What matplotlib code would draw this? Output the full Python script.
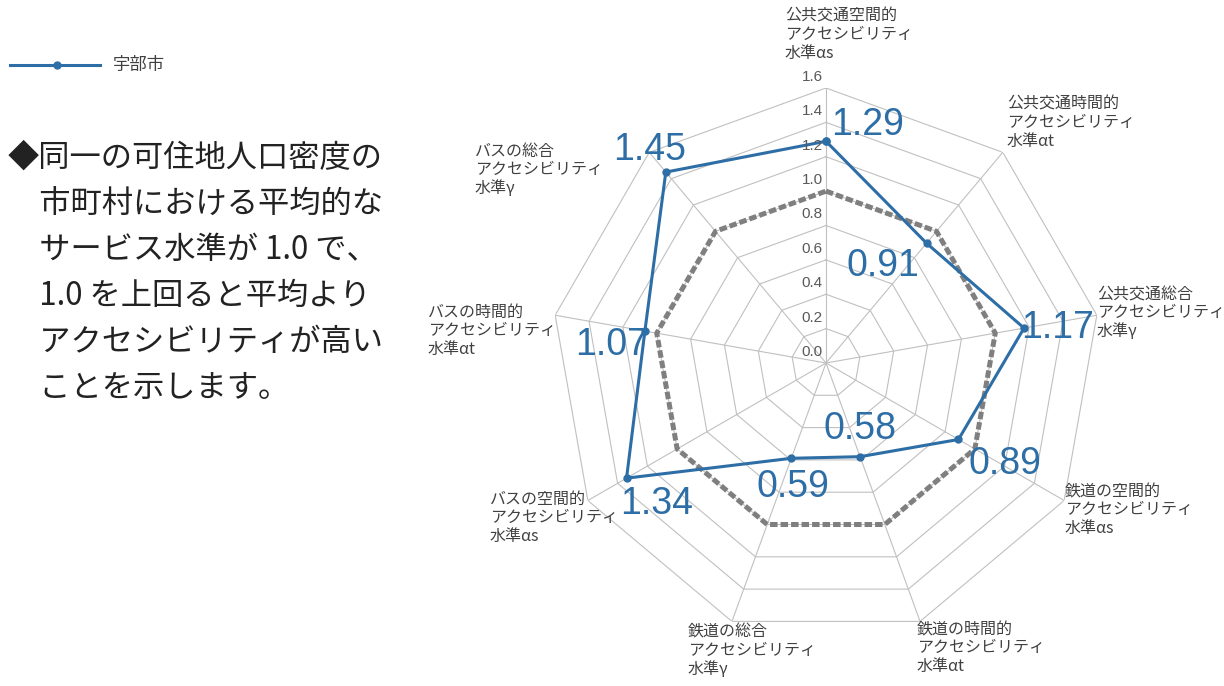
import numpy as np
import matplotlib.pyplot as plt

plt.rcParams['font.family'] = ['Noto Sans CJK JP', 'DejaVu Sans']

labels = ['公共交通空間的\nアクセシビリティ\n水準αs',
          '公共交通時間的\nアクセシビリティ\n水準αt',
          '公共交通総合\nアクセシビリティ\n水準γ',
          '鉄道の空間的\nアクセシビリティ\n水準αs',
          '鉄道の時間的\nアクセシビリティ\n水準αt',
          '鉄道の総合\nアクセシビリティ\n水準γ',
          'バスの空間的\nアクセシビリティ\n水準αs',
          'バスの時間的\nアクセシビリティ\n水準αt',
          'バスの総合\nアクセシビリティ\n水準γ']
ube = [1.29, 0.91, 1.17, 0.89, 0.58, 0.59, 1.34, 1.07, 1.45]
avg = [1.0] * 9
rings = [0.2, 0.4, 0.6, 0.8, 1.0, 1.2, 1.4, 1.6]
ring_labels = ['0.0', '0.2', '0.4', '0.6', '0.8', '1.0', '1.2', '1.4', '1.6']

# positions of the texts (pixels from top-left)
label_pos = [(785, 8), (1007, 96), (1097, 286), (1065, 483), (917, 621),
             (688, 624), (490, 491), (428, 304), (475, 143)]
val_off = [(42, 16), (-44, -23), (34, 0), (46, -25), (0, 28),
           (2, -29), (30, -26), (-33, -14), (-16, 22)]

W, H = 1224, 686
fig = plt.figure(figsize=(W / 100, H / 100), dpi=100)
cx, cy, R = 826, 363, 275
ax = fig.add_axes([(cx - R) / W, (H - cy - R) / H, 2 * R / W, 2 * R / H],
                  projection='polar')
ax.set_theta_offset(np.pi / 2)
ax.set_theta_direction(-1)
ax.set_ylim(0, 1.6)
ax.grid(False)
ax.set_xticks([])
ax.set_yticks([])
ax.spines['polar'].set_visible(False)
ax.patch.set_alpha(0)

n = len(ube)
theta = np.arange(n) * 2 * np.pi / n
tc = np.append(theta, theta[0])

gcol = '#c0c0c0'
for r in rings:
    ax.plot(tc, [r] * (n + 1), color=gcol, lw=0.8, zorder=1)
for t in theta:
    ax.plot([t, t], [0, 1.6], color=gcol, lw=0.8, zorder=1)

ax.plot(tc, avg + [avg[0]], color='#7f7f7f', lw=3.6, dashes=(1.5, 0.6),
        dash_capstyle='butt', zorder=2)
blue = '#2e6ea6'
ax.plot(tc, ube + [ube[0]], color=blue, lw=2.2, marker='o', ms=5, zorder=3)

for i, lab in enumerate(ring_labels):
    ax.annotate(lab, (0, i * 0.2), xytext=(-3, 11), textcoords='offset pixels',
                ha='right', va='center', fontsize=11, color='#595959',
                family='Liberation Sans', zorder=4)

for t, v, off in zip(theta, ube, val_off):
    ax.annotate(f'{v:.2f}', (t, v), xytext=off, textcoords='offset pixels',
                ha='center', va='center', fontsize=27, color=blue,
                family='Liberation Sans', zorder=4)

for lab, (x, y) in zip(labels, label_pos):
    fig.text(x / W, 1 - y / H, lab, ha='left', va='top', fontsize=11.5,
             color='#404040', linespacing=1.1)

# legend
fig.add_artist(plt.Line2D([10 / W, 100 / W], [1 - 65 / H] * 2, color=blue, lw=2.2,
                          transform=fig.transFigure))
fig.add_artist(plt.Line2D([57 / W], [1 - 65 / H], color=blue, marker='o', ms=5,
                          transform=fig.transFigure))
fig.text(113 / W, 1 - 65 / H, '宇部市', ha='left', va='center', fontsize=12.5, color='#404040')

note = ['◆同一の可住地人口密度の',
        '\u3000市町村における平均的な',
        '\u3000サービス水準が 1.0 で、',
        '\u30001.0 を上回ると平均より',
        '\u3000アクセシビリティが高い',
        '\u3000ことを示します。']
for k, line in enumerate(note):
    fig.text(8 / W, 1 - (158 + 46 * k) / H, line, ha='left', va='center',
             fontsize=22.5, color='#222222')

fig.savefig('out.png', dpi=100)
